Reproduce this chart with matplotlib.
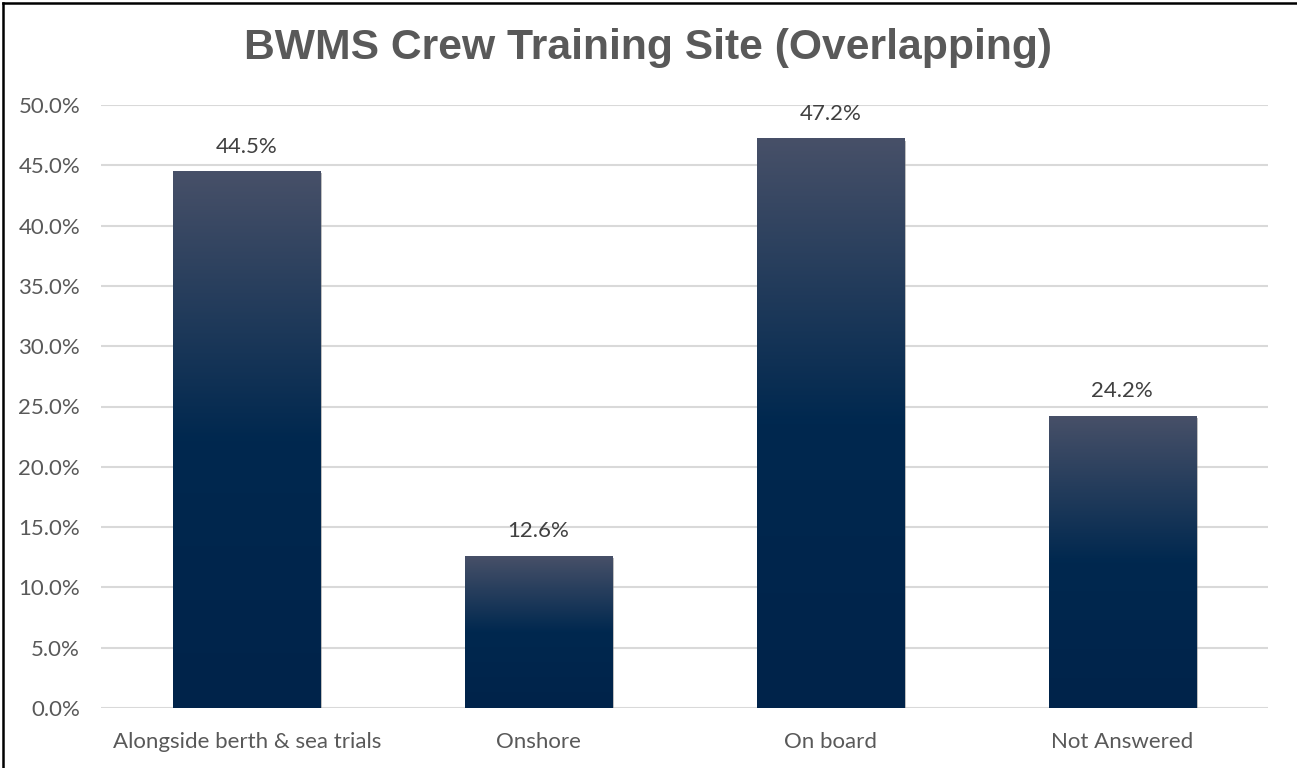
import numpy as np
import matplotlib
matplotlib.use("Agg")
import matplotlib.pyplot as plt
import matplotlib.colors as mcolors
from matplotlib.lines import Line2D
from matplotlib import patheffects as pe

categories = ["Alongside berth & sea trials", "Onshore", "On board", "Not Answered"]
values = [44.5, 12.6, 47.2, 24.2]
yticks = [0, 5, 10, 15, 20, 25, 30, 35, 40, 45, 50]

top_c = np.array(mcolors.to_rgb("#475068"))
mid_c = np.array(mcolors.to_rgb("#00284f"))
bot_c = np.array(mcolors.to_rgb("#00234a"))

fig = plt.figure(figsize=(12.97, 7.68), dpi=100)
ax = fig.add_axes([101/1297, 1-708/768, 1167/1297, (708-105)/768])

x = np.arange(len(categories))
width = 0.504
bars = ax.bar(x, values, width, color="#00234a", zorder=2,
              path_effects=[pe.SimplePatchShadow(offset=(1.5, -1.5), shadow_rgbFace="#808080", alpha=0.5),
                            pe.Normal()])

# gradient fill: top half fades from slate to navy
n = 200
f = np.linspace(0, 1, n)[:, None]
grad = np.where(f < 0.5, top_c + (mid_c - top_c) * (f / 0.5), mid_c + (bot_c - mid_c) * ((f - 0.5) / 0.5))
grad = grad[:, None, :]
for b in bars:
    ax.imshow(grad, extent=(b.get_x(), b.get_x() + b.get_width(), 0, b.get_height()),
              aspect="auto", zorder=3, interpolation="bilinear")

for xi, v in zip(x, values):
    ax.annotate(f"{v:.1f}%", (xi, v), xytext=(0, 13.5), textcoords="offset points",
                ha="center", va="baseline", fontsize=16, color="#404040", family="Lato")

ax.set_xlim(-0.5, 3.5)
ax.set_ylim(0, 50)
ax.set_yticks(yticks)
ax.set_yticklabels([f"{t:.1f}%" for t in yticks])
ax.set_xticks(x)
ax.set_xticklabels(categories)
ax.yaxis.grid(True, color="#d9d9d9", linewidth=1.5, zorder=0)
ax.set_axisbelow(True)
for s in ax.spines.values():
    s.set_visible(False)
ax.tick_params(axis="both", length=0, labelsize=16, labelcolor="#595959")
ax.tick_params(axis="y", pad=15)
ax.tick_params(axis="x", pad=17)
for lab in ax.get_xticklabels() + ax.get_yticklabels():
    lab.set_family("Lato")

fig.text(0.5, 1-48/768, "BWMS Crew Training Site (Overlapping)", ha="center", va="center",
         fontsize=30.7, fontweight="bold", color="#595959", family="Liberation Sans")

fig.add_artist(Line2D([3/1297, 3/1297], [0, 1-3/768], color="black", linewidth=1.8))
fig.add_artist(Line2D([3/1297, 1], [1-3/768, 1-3/768], color="black", linewidth=1.8))

fig.savefig("out.png", dpi=100)
